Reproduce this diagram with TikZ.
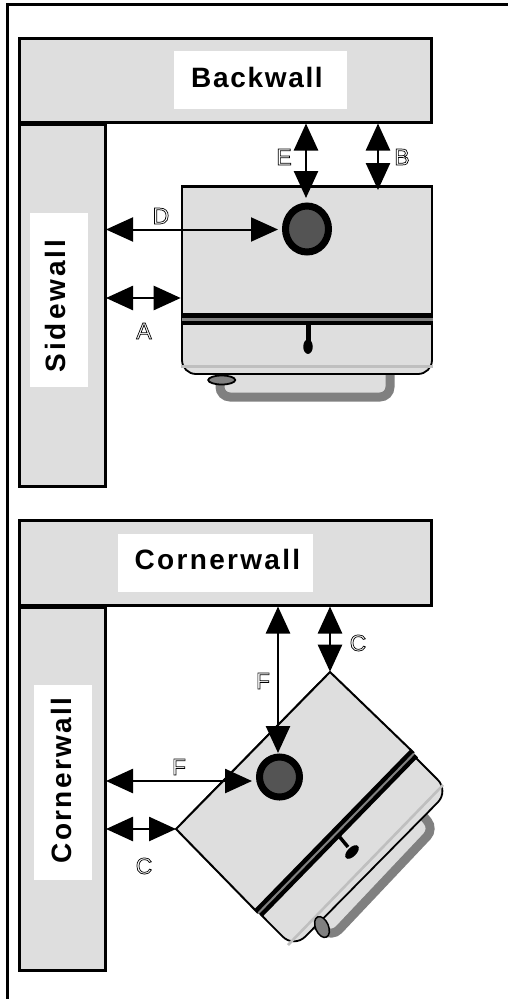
\documentclass[tikz,border=0pt]{standalone}
\usepackage{fontspec}
\setmainfont{Liberation Sans}
\usetikzlibrary{arrows.meta,shapes.geometric}
\newcommand{\outl}[1]{\special{pdf:code 1 Tr 0.7 w}#1\special{pdf:code 0 Tr 1 w}}
\definecolor{wallgray}{gray}{0.87}
\definecolor{knob}{gray}{0.33}
\definecolor{pipe}{gray}{0.5}
\definecolor{seam}{gray}{0.75}
\tikzset{
  wall/.style={draw=black,fill=wallgray,line width=3pt,inner sep=0pt,anchor=north west},
  plate/.style={fill=white,inner sep=0pt},
  title/.style={inner sep=0pt,font=\bfseries\fontsize{28}{30}\selectfont},
  dim/.style={line width=2.6pt,{Triangle[length=27pt,width=24pt]}-{Triangle[length=27pt,width=24pt]}},
  lab/.style={inner sep=0pt,font=\fontsize{23}{23}\selectfont},
  frameline/.style={line width=3pt},
  unitbody/.style={draw=black,fill=wallgray,line width=1.8pt},
  pipeline/.style={draw=pipe,fill=wallgray,line width=9pt,rounded corners=10pt},
}
\begin{document}
\begin{tikzpicture}[x=1pt,y=-1pt]
\useasboundingbox (0,0) rectangle (508,999);
\draw[frameline] (7.5,999) -- (7.5,4.5) -- (508,4.5);
% top walls
\node[wall,minimum width=86pt,minimum height=362pt] (side1) at (17.7,123) {};
\node[wall,minimum width=412.3pt,minimum height=84.4pt] (back) at (17.7,36.8) {};
\node[plate,minimum width=173pt,minimum height=58pt] (backplate) at (260.5,80) {};
\node[title] (backlab) at (257,77) {\addfontfeature{LetterSpace=6}Backwall};
\node[plate,minimum width=58pt,minimum height=174pt] (sideplate) at (59,300) {};
\node[title,rotate=90] (sidelab) at (55,306) {\addfontfeature{LetterSpace=10.7}Sidewall};
% top unit
\draw[pipeline] (220,372) -- (220,397) -- (390,397) -- (390,372);
\draw[unitbody,rounded corners=14pt] (182,300) -- (182,374) -- (432,374) -- (432,300) -- cycle;
\fill[wallgray] (183,187) rectangle (431,330);
\draw[line width=2.4pt] (182,320) -- (182,186.5) -- (432,186.5) -- (432,320);
\draw[line width=1.8pt] (182,320) -- (182,345) (432,320) -- (432,345);
\draw[line width=12pt] (182,319) -- (433,319);
\draw[line width=2.2pt,pipe] (182,319.5) -- (433,319.5);
\draw[seam,line width=2.6pt] (181,366.7) -- (433,366.7);
\draw[line width=4.5pt] (308.3,325) -- (308.3,342);
\node[ellipse,fill=black,minimum width=9.5pt,minimum height=14.5pt,inner sep=0pt] (hnd1) at (308,346.7) {};
\node[ellipse,draw=black,fill=knob,line width=7pt,minimum width=43pt,minimum height=46pt,inner sep=0pt] (drain1) at (307,229) {};
\node[ellipse,draw=black,fill=pipe,line width=1.8pt,minimum width=27pt,minimum height=9pt,inner sep=0pt] (foot1) at (221.7,380) {};
% top arrows
\coordinate (eT) at (306,123.5); \coordinate (eB) at (306,198);
\draw[dim] (eT) -- (eB);
\coordinate (bT) at (378,123.5); \coordinate (bB) at (378,190);
\draw[dim] (bT) -- (bB);
\coordinate (dL) at (106,229.5); \coordinate (dR) at (278,229.5);
\draw[dim,line width=2pt] (dL) -- (dR);
\coordinate (aL) at (106,298); \coordinate (aR) at (180.7,298);
\draw[dim] (aL) -- (aR);
\node[lab] (E) at (284,157) {\outl{E}};
\node[lab] (B) at (402,157) {\outl{B}};
\node[lab] (D) at (161,216) {\outl{D}};
\node[lab] (A) at (144,331) {\outl{A}};
% bottom walls
\node[wall,minimum width=86pt,minimum height=363pt] (side2) at (17.7,606) {};
\node[wall,minimum width=412.3pt,minimum height=84.4pt] (corner) at (17.7,519.3) {};
\node[plate,minimum width=195pt,minimum height=58pt] (cornerplate) at (215.5,563) {};
\node[title] (cornerlab) at (217.5,559.5) {\addfontfeature{LetterSpace=8.3}Cornerwall};
\node[plate,minimum width=58pt,minimum height=195pt] (sideplate2) at (63,782.5) {};
\node[title,rotate=90] (sidelab2) at (61.5,780.5) {\addfontfeature{LetterSpace=8.3}Cornerwall};
% bottom unit
\draw[pipeline] (420,812) -- (434,829) -- (332,937) -- (316,925);
\draw[unitbody,rounded corners=16pt] (330,672) -- (449,791) -- (294,948) -- (176,829) -- cycle;
\fill[wallgray] (330,672) -- (414,753) -- (258,913) -- (176,829) -- cycle;
\draw[line width=2pt] (258,913) -- (176,829) -- (330,672) -- (414,753);
\draw[line width=11pt] (258.5,913) -- (414,753.5);
\draw[line width=2pt,pipe] (258.5,913) -- (414,753.5);
\draw[seam,line width=2.6pt] (288,945) -- (443,785);
\draw[line width=3.5pt] (338,835) -- (348,847);
\node[ellipse,rotate=45,fill=black,minimum width=17pt,minimum height=9pt,inner sep=0pt] (hnd2) at (352,852) {};
\node[ellipse,draw=black,fill=knob,line width=7pt,minimum size=40pt,inner sep=0pt] (drain2) at (279.5,777) {};
\node[ellipse,rotate=-67,draw=black,fill=pipe,line width=1.5pt,minimum width=22pt,minimum height=13pt,inner sep=0pt] (foot2) at (322,927) {};
% bottom arrows
\coordinate (f1T) at (278,606.5); \coordinate (f1B) at (278,753);
\draw[dim] (f1T) -- (f1B);
\coordinate (c1T) at (330,606.5); \coordinate (c1B) at (330,671.7);
\draw[dim] (c1T) -- (c1B);
\coordinate (f2L) at (106,781); \coordinate (f2R) at (252,781);
\draw[dim] (f2L) -- (f2R);
\coordinate (c2L) at (106,829); \coordinate (c2R) at (176,829);
\draw[dim] (c2L) -- (c2R);
\node[lab] (F1) at (263,681) {\outl{F}};
\node[lab] (F2) at (179,767) {\outl{F}};
\node[lab] (C1) at (358,643) {\outl{C}};
\node[lab] (C2) at (144,866) {\outl{C}};
\end{tikzpicture}
\end{document}
